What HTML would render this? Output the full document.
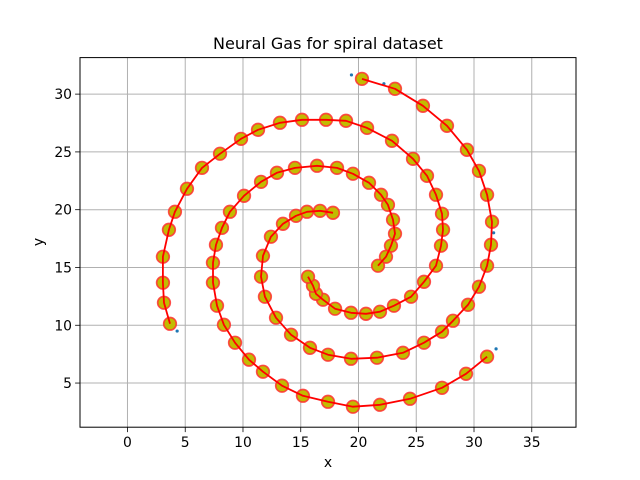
<!DOCTYPE html>
<html><head><meta charset="utf-8"><style>
body{margin:0;background:#fff;}
svg{display:block;font-family:"DejaVu Sans","Liberation Sans",sans-serif;}
</style></head><body>
<svg id="chart" width="640" height="480" viewBox="0 0 640 480">
<rect width="640" height="480" fill="#fff"/>
<text x="328" y="49" font-size="16" text-anchor="middle">Neural Gas for spiral dataset</text>
<g id="grid"></g>
<g id="series"></g>
<rect x="80" y="57.6" width="496" height="369.6" fill="none" stroke="#000" stroke-width="1"/>
<g id="ticks"></g>
<text x="328" y="467" font-size="14" text-anchor="middle">x</text>
<text x="0" y="0" font-size="14" text-anchor="middle" transform="translate(43,242) rotate(-90)">y</text>
</svg>
<script>
const xTicks=[0,5,10,15,20,25,30,35];
const yTicks=[5,10,15,20,25,30];
const armAX=[20.30,23.16,25.58,27.66,29.39,30.43,31.13,31.56,31.47,31.13,30.43,29.48,28.18,27.23,25.67,23.85,21.60,19.35,17.36,15.80,14.16,12.86,11.90,11.56,11.73,12.42,13.46,14.59,15.54,16.67,17.79];
const armAY=[31.32,30.46,28.99,27.26,25.18,23.36,21.29,18.95,16.96,15.15,13.33,11.77,10.39,9.44,8.49,7.62,7.19,7.10,7.45,8.05,9.18,10.65,12.47,14.20,16.01,17.66,18.78,19.47,19.82,19.90,19.73];
const armBX=[31.13,29.31,27.23,24.46,21.86,19.52,17.36,15.19,13.38,11.73,10.52,9.31,8.35,7.75,7.40,7.40,7.66,8.18,8.87,10.09,11.56,12.94,14.50,16.41,18.14,19.52,20.91,21.95,22.55,22.99,23.16,22.81,22.38,21.69];
const armBY=[7.28,5.80,4.59,3.64,3.12,2.95,3.38,3.90,4.77,5.98,7.02,8.49,10.04,11.69,13.68,15.41,16.96,18.43,19.82,21.20,22.41,23.19,23.62,23.80,23.62,23.11,22.33,21.29,20.42,19.13,17.92,16.88,15.93,15.15];
const armCX=[3.68,3.16,3.07,3.07,3.59,4.11,5.15,6.45,8.01,9.83,11.30,13.20,15.11,17.19,18.92,20.74,22.90,24.72,25.93,26.71,27.23,27.32,27.14,26.71,25.67,24.55,23.07,21.86,20.65,19.35,17.97,16.93,16.32,16.06,15.63];
const armCY=[10.13,11.95,13.68,15.93,18.26,19.82,21.81,23.62,24.84,26.13,26.91,27.52,27.78,27.78,27.69,27.08,25.96,24.40,22.93,21.29,19.65,18.26,16.88,15.15,13.76,12.47,11.69,11.17,10.99,11.08,11.43,12.21,12.72,13.42,14.20];
const dataX=[19.39,31.91,22.2,31.7,4.3];
const dataY=[31.66,7.96,30.9,18.0,9.5];

const X0=-4.11,X1=38.83,Y0=1.18,Y1=33.16;
const L=80,R=576,T=57.6,B=427.2;
function sx(v){return L+(v-X0)/(X1-X0)*(R-L);}
function sy(v){return B-(v-Y0)/(Y1-Y0)*(B-T);}
const NS='http://www.w3.org/2000/svg';
function mk(tag,attrs,parent){const e=document.createElementNS(NS,tag);for(const k in attrs)e.setAttribute(k,attrs[k]);parent.appendChild(e);return e;}
const grid=document.getElementById('grid'),ticks=document.getElementById('ticks'),series=document.getElementById('series');
xTicks.forEach(t=>{
  const x=sx(t);
  const g=mk('line',{x1:x,x2:x,y1:T,y2:B,stroke:'#b0b0b0','stroke-width':1},grid);
  
  
  const tk=mk('line',{x1:x,x2:x,y1:B,y2:B+4.9,stroke:'#000','stroke-width':0.8},ticks);
  
  
  const lb=mk('text',{x:x,y:B+20,'font-size':13.9,'text-anchor':'middle'},ticks);
  lb.textContent=t;
  
  
});
yTicks.forEach(t=>{
  const y=sy(t);
  const g=mk('line',{x1:L,x2:R,y1:y,y2:y,stroke:'#b0b0b0','stroke-width':1},grid);
  
  
  const tk=mk('line',{x1:L-4.9,x2:L,y1:y,y2:y,stroke:'#000','stroke-width':0.8},ticks);
  
  
  const lb=mk('text',{x:L-8,y:y+5,'font-size':13.9,'text-anchor':'end'},ticks);
  lb.textContent=t;
  
  
});
dataX.forEach((v,i)=>{
  const c=mk('circle',{cx:sx(v),cy:sy(dataY[i]),r:1.6,fill:'#1f77b4'},series);
  
  
});
function drawArm(xs,ys,name){
  xs.forEach((v,i)=>{
    const c=mk('circle',{cx:sx(v),cy:sy(ys[i]),r:6.3,fill:'#c2bb00',stroke:'#ff3030','stroke-width':1.7,'stroke-opacity':0.85},series);
    
    
  });
  const pts=xs.map((v,i)=>sx(v).toFixed(1)+','+sy(ys[i]).toFixed(1)).join(' ');
  const p=mk('polyline',{points:pts,fill:'none',stroke:'#ff0000','stroke-width':1.8,'stroke-linejoin':'round'},series);
  
  
}
drawArm(armAX,armAY,'arm-a');
drawArm(armBX,armBY,'arm-b');
drawArm(armCX,armCY,'arm-c');
</script>
</body></html>
